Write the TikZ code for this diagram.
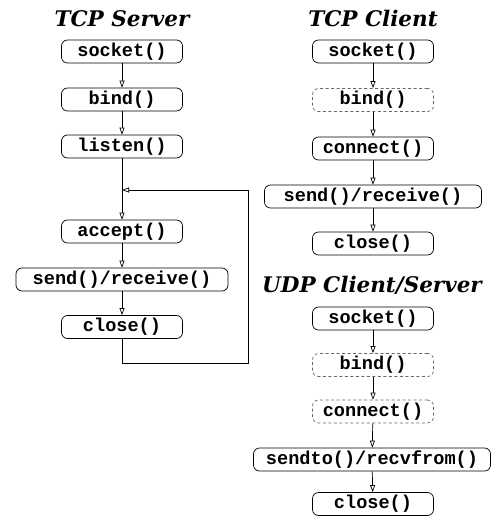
\documentclass[tikz,border=0pt]{standalone}
\usepackage{fontspec}
\setmonofont{Liberation Mono}
\newfontfamily\titlefont{DejaVu Serif}
\usetikzlibrary{arrows.meta}
\begin{document}
\begin{tikzpicture}[x=1pt,y=-1pt,
  call/.style={draw,line width=0.7pt,rounded corners=6pt,minimum width=121pt,minimum height=23pt,inner sep=0pt,
    font=\fontsize{18.6}{20}\selectfont\ttfamily\bfseries},
  maybe/.style={call,draw=black!60,dash pattern=on 3pt off 2.5pt},
  flow/.style={-{Triangle[open,length=7pt,width=5pt]},line width=0.7pt},
  title/.style={anchor=base,font=\fontsize{21.5}{24}\selectfont\titlefont\bfseries\itshape}]
  \useasboundingbox (0,0) rectangle (494,521);
%%% TCP server
  \node[title] (srvtitle) at (122,27) {TCP Server};
  \node[call] (srvsocket) at (122,51.5) {socket()};
  \node[call] (srvbind) at (122,99.5) {bind()};
  \node[call] (srvlisten) at (122,146.5) {listen()};
  \node[call] (srvaccept) at (122,231.5) {accept()};
  \node[call,minimum width=212pt] (srvsend) at (122,279.5) {send()/receive()};
  \node[call] (srvclose) at (122,327) {close()};
  \coordinate (srvback) at (122,190);
  \coordinate (srvturn) at (248,363);
  \draw[flow] (srvsocket) -- (srvbind);
  \draw[flow] (srvbind) -- (srvlisten);
  \draw[flow] (srvlisten) -- (srvaccept);
  \draw[flow] (srvaccept) -- (srvsend);
  \draw[flow] (srvsend) -- (srvclose);
  \draw[flow] (srvclose.south) |- (srvturn) |- (srvback);
%%% TCP client
  \node[title] (clititle) at (373,27) {TCP Client};
  \node[call] (clisocket) at (373,51.5) {socket()};
  \node[maybe] (clibind) at (373,100) {bind()};
  \node[call] (cliconnect) at (373,148.5) {connect()};
  \node[call,minimum width=217pt] (clisend) at (373,196.5) {send()/receive()};
  \node[call] (cliclose) at (373,243.5) {close()};
  \draw[flow] (clisocket) -- (clibind);
  \draw[flow] (clibind) -- (cliconnect);
  \draw[flow] (cliconnect) -- (clisend);
  \draw[flow] (clisend) -- (cliclose);
%%% UDP client/server
  \node[title] (udptitle) at (372,292) {UDP Client/Server};
  \node[call] (udpsocket) at (373,318.5) {socket()};
  \node[maybe] (udpbind) at (373,365) {bind()};
  \node[maybe] (udpconnect) at (373,411.5) {connect()};
  \node[call,minimum width=237pt] (udpsend) at (372,459.5) {sendto()/recvfrom()};
  \node[call] (udpclose) at (373,504) {close()};
  \draw[flow] (udpsocket) -- (udpbind);
  \draw[flow] (udpbind) -- (udpconnect);
  \draw[flow] (udpconnect) -- (udpsend);
  \draw[flow] (udpsend) -- (udpclose);
\end{tikzpicture}
\end{document}
